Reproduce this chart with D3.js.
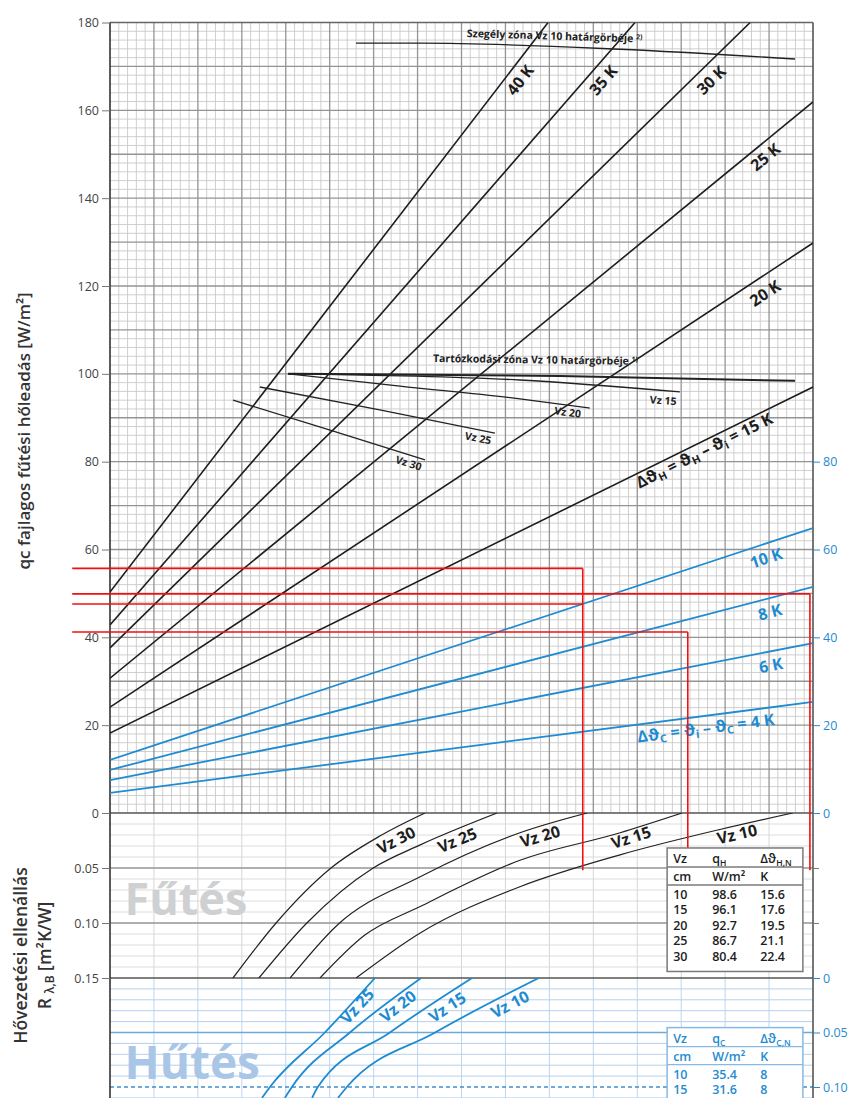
<!DOCTYPE html>
<html>
<head>
<meta charset="utf-8">
<script src="https://cdn.jsdelivr.net/npm/d3@7"></script>
<style>
  body { margin: 0; background: #fff; }
  text { font-family: "Open Sans", sans-serif; }
</style>
</head>
<body>
<div id="chart"></div>
<script>
// ---- data (x in grid units 0..16) ----
const heatK = [15, 20, 25, 30, 35, 40];
const heatStart = [18.2, 24.1, 30.7, 37.6, 42.8, 50.3];
const heatEnd = [[16, 97.0], [16, 129.8], [16, 161.9], [14.57, 180], [11.95, 180], [9.97, 180]];
const heatLabelPos = [[13.52, 82.6], [14.91, 118.4], [14.91, 149.4], [13.68, 166.9], [11.22, 166.9], [9.33, 166.9]];

const coolK = [4, 6, 8, 10];
const coolStart = [4.6, 7.5, 9.8, 12.1];
const coolEnd = [25.3, 38.7, 51.5, 64.9];
const coolLabelPos = [[13.56, 19.4], [15.04, 33.7], [15.02, 45.8], [14.93, 58.1]];

// boundary curves of the occupied zone (Tartózkodási zóna) per Vz
const zoneVz = [10, 15, 20, 25, 30];
const zoneLines = [
  [[4.05, 100.0], [10.24, 99.5], [15.59, 98.4]],
  [[4.05, 100.0], [9.33, 98.6], [12.97, 95.9]],
  [[4.05, 100.0], [6.6, 97.2], [9.33, 94.3], [10.92, 92.2]],
  [[3.41, 97.0], [6.14, 91.8], [8.76, 86.5]],
  [[2.80, 94.0], [5.01, 87.2], [7.17, 80.4]]
];
const zoneLabelPos = [null, [12.59, 94.0], [10.42, 91.3], [8.38, 85.4], [6.80, 79.7]];
const edgeLine = [[5.60, 175.3], [7.06, 175.3], [11.61, 173.9], [15.59, 171.7]];

// heating resistance curves: [x, R]
const heatVz = [30, 25, 20, 15, 10];
const heatCurves = [
  [[2.80, 0.150], [3.78, 0.100], [5.03, 0.050], [6.14, 0.021], [7.17, 0]],
  [[3.39, 0.150], [4.48, 0.100], [5.99, 0.050], [7.06, 0.029], [8.81, 0]],
  [[4.10, 0.150], [5.17, 0.102], [7.06, 0.058], [9.33, 0.018], [10.86, 0]],
  [[4.78, 0.150], [5.80, 0.111], [7.06, 0.085], [9.33, 0.043], [11.61, 0.018], [13.02, 0]],
  [[5.60, 0.150], [7.06, 0.109], [9.33, 0.067], [11.61, 0.038], [13.88, 0.015], [15.54, 0]]
];
const heatCurveLabelPos = [[6.51, 0.0245], [7.90, 0.0245], [9.79, 0.021], [11.86, 0.022], [14.27, 0.019]];

// cooling resistance curves: [x, R]
const coolVz = [25, 20, 15, 10];
const coolCurves = [
  [[6.03, 0], [4.89, 0.050], [3.64, 0.100], [3.46, 0.110]],
  [[7.08, 0], [5.46, 0.050], [4.14, 0.100], [3.98, 0.110]],
  [[8.24, 0], [6.37, 0.050], [4.73, 0.100], [4.60, 0.110]],
  [[9.76, 0], [7.40, 0.050], [5.39, 0.100], [5.19, 0.110]]
];
const coolCurveLabelPos = [[5.62, 0.0257], [6.55, 0.0257], [7.67, 0.0266], [9.10, 0.0239]];

// tables
const heatTableVz = [10, 15, 20, 25, 30];
const heatTableQ = ['98.6', '96.1', '92.7', '86.7', '80.4'];
const heatTableDT = ['15.6', '17.6', '19.5', '21.1', '22.4'];
const coolTableVz = [10, 15];
const coolTableQ = ['35.4', '31.6'];
const coolTableDT = ['8', '8'];

// red reading lines
const guideQ = [55.7, 49.9, 47.6, 41.2];
const guideEnd = [10.76, 15.93, 10.76, 13.15];
const guideStart = -0.86;
const dropU = [10.76, 15.93, 13.15];
const dropQ = [55.7, 49.9, 41.2];
const dropR = 0.052;

const qTicks = d3.range(0, 181, 20);
const qTicksRight = [0, 20, 40, 60, 80];
const rTicks = [0.05, 0.10, 0.15];
const cTicks = [0, 0.05, 0.10];

// ---- layout ----
const W = 851, H = 1098;
const BLUE = '#1f8bd0';
const x = d3.scaleLinear().domain([0, 16]).range([110, 813]);
const yQ = d3.scaleLinear().domain([0, 180]).range([813, 22.5]);
const yR = d3.scaleLinear().domain([0, 0.15]).range([813, 978]);
const yC = d3.scaleLinear().domain([0, 0.10]).range([978, 1087]);

const svg = d3.select('#chart').append('svg')
  .attr('width', W).attr('height', H);

const defs = svg.append('defs');
const clip = (id, y0, y1) => defs.append('clipPath').attr('id', id).append('rect')
  .attr('x', x(0)).attr('y', y0).attr('width', x(16) - x(0)).attr('height', y1 - y0);
clip('cTop', yQ(180), yQ(0));
clip('cHeat', yR(0), yR(0.15));
clip('cCool', yC(0), H);

const hLines = (g, vals, ys, color, width, dash) => g.selectAll(null).data(vals).join('line')
  .attr('x1', x(0)).attr('x2', x(16))
  .attr('y1', d => ys(d)).attr('y2', d => ys(d))
  .attr('stroke', color).attr('stroke-width', width)
  .attr('stroke-dasharray', dash || null);
const vLines = (g, vals, y0, y1, color, width) => g.selectAll(null).data(vals).join('line')
  .attr('x1', d => x(d)).attr('x2', d => x(d))
  .attr('y1', y0).attr('y2', y1)
  .attr('stroke', color).attr('stroke-width', width);

// ---- grids ----
const grid = svg.append('g');
const minorU = d3.range(0, 81).filter(i => i % 5 !== 0).map(i => i / 5);
const majorU = d3.range(1, 16);
hLines(grid, d3.range(0, 181, 2).filter(d => d % 10 !== 0), yQ, '#c9c9c9', 0.9);
vLines(grid, minorU, yQ(180), yQ(0), '#c9c9c9', 0.9);
hLines(grid, d3.range(10, 180, 10), yQ, '#949494', 1.3);
vLines(grid, majorU, yQ(180), yQ(0), '#949494', 1.3);

// heating resistance section
vLines(grid, majorU, yR(0), yR(0.15), '#d6d6d6', 1);
hLines(grid, d3.range(1, 15).filter(i => i % 5 !== 0).map(i => i / 100), yR, '#d8d8d8', 0.9);
hLines(grid, [0.05, 0.10], yR, '#949494', 1.3);

// cooling resistance section
vLines(grid, majorU, yC(0), H, '#bcd6ef', 1);
hLines(grid, d3.range(1, 12).filter(i => i % 5 !== 0).map(i => i / 100), yC, '#b4d1ed', 1);
hLines(grid, [0.05], yC, '#6fa9dc', 1.3);
hLines(grid, [0.10], yC, '#3d8fd0', 1.4, '4,3');

// section borders
hLines(grid, [180], yQ, '#666', 1.5);
hLines(grid, [0], yQ, '#555', 1.5);
hLines(grid, [0.15], yR, '#555', 1.5);
svg.append('line').attr('x1', x(0)).attr('x2', x(0)).attr('y1', yQ(180)).attr('y2', H)
  .attr('stroke', '#333').attr('stroke-width', 1.6);
svg.append('line').attr('x1', x(16)).attr('x2', x(16)).attr('y1', yQ(180)).attr('y2', H)
  .attr('stroke', '#555').attr('stroke-width', 1.6);

// ---- axes ----
const styleAxis = (g, color, tickColor) => {
  g.select('.domain').remove();
  g.selectAll('line').attr('stroke', tickColor);
  g.selectAll('text').attr('fill', color).style('font-size', '12.5px')
    .style('font-family', '"Open Sans", sans-serif');
};
styleAxis(svg.append('g').attr('transform', `translate(${x(0)},0)`)
  .call(d3.axisLeft(yQ).tickValues(qTicks).tickSize(8).tickPadding(3)), '#444', '#777');
styleAxis(svg.append('g').attr('transform', `translate(${x(0)},0)`)
  .call(d3.axisLeft(yR).tickValues(rTicks).tickFormat(d3.format('.2f')).tickSize(8).tickPadding(3)), '#444', '#777');
styleAxis(svg.append('g').attr('transform', `translate(${x(16)},0)`)
  .call(d3.axisRight(yQ).tickValues(qTicksRight).tickSize(7).tickPadding(3)), BLUE, BLUE);
styleAxis(svg.append('g').attr('transform', `translate(${x(16)},0)`)
  .call(d3.axisRight(yR).tickValues([0.05, 0.10]).tickFormat('').tickSize(6)), '#444', '#777');
styleAxis(svg.append('g').attr('transform', `translate(${x(16)},0)`)
  .call(d3.axisRight(yC).tickValues(cTicks).tickFormat(d => d === 0 ? '0' : d3.format('.2f')(d)).tickSize(7).tickPadding(3)), BLUE, BLUE);

// ---- helpers ----
const lineQ = d3.line().x(d => x(d[0])).y(d => yQ(d[1]));
const curveQ = d3.line().x(d => x(d[0])).y(d => yQ(d[1])).curve(d3.curveMonotoneX);
const curveR = d3.line().x(d => x(d[0])).y(d => yR(d[1])).curve(d3.curveMonotoneX);
const curveC = d3.line().x(d => x(d[0])).y(d => yC(d[1])).curve(d3.curveMonotoneX);
const sortU = pts => pts.slice().sort((a, b) => a[0] - b[0]);
const ang = (p0, p1, ys) => Math.atan2(ys(p1[1]) - ys(p0[1]), x(p1[0]) - x(p0[0])) * 180 / Math.PI;
const segAngle = (pts, u, ys) => {
  const s = sortU(pts);
  let i = s.findIndex((p, j) => j < s.length - 1 && u >= p[0] && u <= s[j + 1][0]);
  if (i < 0) i = s.length - 2;
  return ang(s[i], s[i + 1], ys);
};
const label = (g, px, py, angle, size, color) => g.append('text')
  .attr('transform', `translate(${px},${py}) rotate(${angle})`)
  .attr('text-anchor', 'middle').attr('dominant-baseline', 'central')
  .attr('fill', color).style('font-size', size + 'px').style('font-weight', 700);
const sub = (t, s, size, last) => {
  t.append('tspan').attr('dy', size * 0.25).style('font-size', (size * 0.68) + 'px').text(s);
  if (last) t.append('tspan').attr('dy', -size * 0.25).text(last);
};

// ---- top section lines ----
const topSec = svg.append('g').attr('clip-path', 'url(#cTop)');
const coolPts = coolK.map((k, i) => [[0, coolStart[i]], [16, coolEnd[i]]]);
topSec.selectAll('.cool').data(coolPts).join('path')
  .attr('d', lineQ).attr('fill', 'none').attr('stroke', BLUE).attr('stroke-width', 1.8);
const heatPts = heatK.map((k, i) => [[0, heatStart[i]], heatEnd[i]]);
topSec.selectAll('.heat').data(heatPts).join('path')
  .attr('d', lineQ).attr('fill', 'none').attr('stroke', '#1d1d1d').attr('stroke-width', 1.6);

topSec.selectAll('.zone').data(zoneLines).join('path')
  .attr('d', curveQ).attr('fill', 'none').attr('stroke', '#222')
  .attr('stroke-width', (d, i) => i === 0 ? 2 : 1.3);
topSec.append('path').datum(edgeLine).attr('d', curveQ)
  .attr('fill', 'none').attr('stroke', '#222').attr('stroke-width', 1.4);

const labels = svg.append('g');
heatK.forEach((k, i) => {
  const p = heatLabelPos[i];
  const a = ang(heatPts[i][0], heatPts[i][1], yQ);
  const t = label(labels, x(p[0]), yQ(p[1]), a, 16, '#1d1d1d');
  if (i === 0) {
    t.append('tspan').text('Δϑ'); sub(t, 'H', 16, ' = ϑ');
    sub(t, 'H', 16, ' – ϑ'); sub(t, 'i', 16, ` = ${k} K`);
  } else {
    t.text(`${k} K`);
  }
});
coolK.forEach((k, i) => {
  const p = coolLabelPos[i];
  const a = ang(coolPts[i][0], coolPts[i][1], yQ);
  const t = label(labels, x(p[0]), yQ(p[1]), a, 16, BLUE);
  if (i === 0) {
    t.append('tspan').text('Δϑ'); sub(t, 'C', 16, ' = ϑ');
    sub(t, 'i', 16, ' – ϑ'); sub(t, 'C', 16, ` = ${k} K`);
  } else {
    t.text(`${k} K`);
  }
});
zoneVz.forEach((vz, i) => {
  const p = zoneLabelPos[i];
  if (!p) return;
  const pts = zoneLines[i];
  label(labels, x(p[0]), yQ(p[1]), ang(pts[pts.length - 2], pts[pts.length - 1], yQ), 10.5, '#222')
    .text(`Vz ${vz}`);
});
const zoneText = (u, q, a, str, sup) => {
  const t = labels.append('text')
    .attr('transform', `translate(${x(u)},${yQ(q)}) rotate(${a})`)
    .attr('fill', '#222').style('font-size', '10.5px').style('font-weight', 700).text(str);
  t.append('tspan').attr('dy', -3).style('font-size', '7px').text(sup);
};
zoneText(8.12, 176.7, ang(edgeLine[1], edgeLine[2], yQ), 'Szegély zóna Vz 10 határgörbéje ', '2)');
zoneText(7.35, 102.7, ang(zoneLines[0][0], zoneLines[0][2], yQ), 'Tartózkodási zóna Vz 10 határgörbéje ', '1)');

// ---- heating resistance curves ----
const heatSec = svg.append('g').attr('clip-path', 'url(#cHeat)');
svg.append('text').attr('x', x(0.33)).attr('y', yR(0.093))
  .attr('fill', '#cfd0d2').style('font-size', '45px').style('font-weight', 700).text('Fűtés');
heatSec.selectAll('path').data(heatCurves).join('path')
  .attr('d', curveR).attr('fill', 'none').attr('stroke', '#222').attr('stroke-width', 1.2);
heatVz.forEach((vz, i) => {
  const p = heatCurveLabelPos[i];
  label(labels, x(p[0]), yR(p[1]), segAngle(heatCurves[i], p[0], yR), 16, '#1d1d1d').text(`Vz ${vz}`);
});

// ---- cooling resistance curves ----
const coolSec = svg.append('g').attr('clip-path', 'url(#cCool)');
svg.append('text').attr('x', x(0.33)).attr('y', yC(0.093))
  .attr('fill', '#a9c6e7').style('font-size', '46px').style('font-weight', 700).text('Hűtés');
coolSec.selectAll('path').data(coolCurves.map(sortU)).join('path')
  .attr('d', curveC).attr('fill', 'none').attr('stroke', BLUE).attr('stroke-width', 1.8);
coolVz.forEach((vz, i) => {
  const p = coolCurveLabelPos[i];
  label(labels, x(p[0]), yC(p[1]), segAngle(coolCurves[i], p[0], yC), 16, BLUE).text(`Vz ${vz}`);
});

// ---- red reading lines ----
const red = svg.append('g').attr('stroke', '#f01010').attr('stroke-width', 1.6);
red.selectAll('.h').data(guideQ).join('line')
  .attr('x1', x(guideStart)).attr('x2', (d, i) => x(guideEnd[i]))
  .attr('y1', d => yQ(d)).attr('y2', d => yQ(d));
red.selectAll('.v').data(dropU).join('line')
  .attr('x1', d => x(d)).attr('x2', d => x(d))
  .attr('y1', (d, i) => yQ(dropQ[i])).attr('y2', yR(dropR));

// ---- tables ----
const table = (ys, r0, border, color, head, vz, q, dt) => {
  const tx = x(12.68), tw = x(15.77) - tx, ty = ys(r0);
  const rows = vz.length;
  const th = 53 + rows * 15.5 - 7;
  const g = svg.append('g');
  g.append('rect').attr('x', tx).attr('y', ty).attr('width', tw).attr('height', th)
    .attr('fill', '#fff').attr('stroke', border).attr('stroke-width', 1.5);
  [19, 37].forEach(o => g.append('line').attr('x1', tx).attr('x2', tx + tw)
    .attr('y1', ty + o).attr('y2', ty + o).attr('stroke', border).attr('stroke-width', 1.3));
  const cols = [6, 45, 93];
  const cell = (c, y) => g.append('text').attr('x', tx + cols[c]).attr('y', y)
    .attr('fill', color).style('font-size', '12.5px').style('font-weight', 600);
  cell(0, ty + 15).text('Vz');
  const h1 = cell(1, ty + 15).text('q'); sub(h1, head, 12.5);
  const h2 = cell(2, ty + 15).text('Δϑ'); sub(h2, head + ',N', 12.5);
  cell(0, ty + 33).text('cm');
  cell(1, ty + 33).text('W/m²');
  cell(2, ty + 33).text('K');
  vz.forEach((v, i) => {
    const yy = ty + 51 + i * 15.5;
    cell(0, yy).text(v);
    cell(1, yy).text(q[i]);
    cell(2, yy).text(dt[i]);
  });
};
table(yR, 0.0318, '#7a7a7a', '#1d1d1d', 'H', heatTableVz, heatTableQ, heatTableDT);
table(yC, 0.0455, '#86b9e4', BLUE, 'C', coolTableVz, coolTableQ, coolTableDT);

// ---- axis titles ----
svg.append('text').attr('transform', `translate(30,${yQ(87)}) rotate(-90)`)
  .attr('text-anchor', 'middle').attr('fill', '#333')
  .style('font-size', '17px').style('font-weight', 600)
  .text('qc fajlagos fűtési hőleadás [W/m²]');
const midR = (yR(0) + yR(0.15)) / 2 + 60;
svg.append('text').attr('transform', `translate(27,${midR}) rotate(-90)`)
  .attr('text-anchor', 'middle').attr('fill', '#333')
  .style('font-size', '17.5px').style('font-weight', 600)
  .text('Hővezetési ellenállás');
const rt = svg.append('text').attr('transform', `translate(51,${midR}) rotate(-90)`)
  .attr('text-anchor', 'middle').attr('fill', '#333')
  .style('font-size', '17.5px').style('font-weight', 600);
rt.append('tspan').text('R ');
rt.append('tspan').attr('dy', 3).style('font-size', '12px').text('λ,B');
rt.append('tspan').attr('dy', -3).text(' [m²K/W]');
</script>
</body>
</html>
